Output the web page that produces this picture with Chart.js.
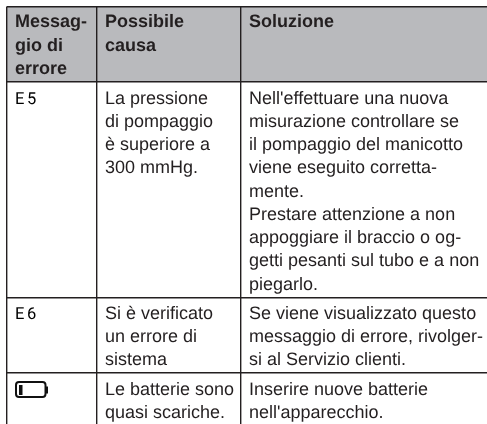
<!DOCTYPE html>
<html>
<head>
<meta charset="utf-8">
<style>html,body{margin:0;padding:0;background:#fff}canvas{display:block}</style>
<script src="https://cdn.jsdelivr.net/npm/chart.js@4"></script>
</head>
<body>
<canvas id="c" width="487" height="424"></canvas>
<script>
// Content
const headerMessage = ["Messag-", "gio di", "errore"];
const headerCause = ["Possibile", "causa"];
const headerSolution = ["Soluzione"];
const codes = ["E5", "E6"];
const causeE5 = ["La pressione", "di pompaggio", "è superiore a", "300 mmHg."];
const solutionE5 = ["Nell'effettuare una nuova", "misurazione controllare se", "il pompaggio del manicotto", "viene eseguito corretta-", "mente.", "Prestare attenzione a non", "appoggiare il braccio o og-", "getti pesanti sul tubo e a non", "piegarlo."];
const causeE6 = ["Si è verificato", "un errore di", "sistema"];
const solutionE6 = ["Se viene visualizzato questo", "messaggio di errore, rivolger-", "si al Servizio clienti."];
const causeBattery = ["Le batterie sono", "quasi scariche."];
const solutionBattery = ["Inserire nuove batterie", "nell'apparecchio."];

// Table layout (scale units equal page pixels)
const columnEdges = [6.5, 97, 241];
const rowEdges = [6.5, 81.5, 298, 373];
const textX = [15, 105, 249];
const headerBaselines = [27, 51, 74];
const e5Baselines = [104, 127, 150, 173, 197, 220, 243, 266, 290];
const e6Baselines = [319, 342, 365];
const batteryBaselines = [394.5, 417.5];

const INK = "#231f20";
const FONT = '18px "Liberation Sans", Arial, sans-serif';
const BOLD = 'bold 18px "Liberation Sans", Arial, sans-serif';

const tablePlugin = {
  id: "table",
  beforeDraw(chart) {
    const { ctx, scales: { x, y } } = chart;
    ctx.save();
    ctx.fillStyle = "#ffffff";
    ctx.fillRect(0, 0, chart.width, chart.height);
    ctx.fillStyle = "#b9babd";
    ctx.fillRect(x.getPixelForValue(columnEdges[0]), y.getPixelForValue(rowEdges[0]),
      x.getPixelForValue(487) - x.getPixelForValue(columnEdges[0]),
      y.getPixelForValue(rowEdges[1]) - y.getPixelForValue(rowEdges[0]));
    ctx.restore();
  },
  afterDraw(chart) {
    const { ctx, scales: { x, y } } = chart;
    const put = (lines, col, baselines, font) => {
      ctx.font = font;
      lines.forEach((t, i) => ctx.fillText(t, x.getPixelForValue(textX[col]), y.getPixelForValue(baselines[i])));
    };
    ctx.save();
    ctx.textRendering = "geometricPrecision";
    ctx.fillStyle = INK;
    ctx.textBaseline = "alphabetic";
    ctx.textAlign = "left";
    put(headerMessage, 0, headerBaselines, BOLD);
    put(headerCause, 1, headerBaselines, BOLD);
    put(headerSolution, 2, headerBaselines, BOLD);
    put(causeE5, 1, e5Baselines, FONT);
    put(solutionE5, 2, e5Baselines, FONT);
    put(causeE6, 1, e6Baselines, FONT);
    put(solutionE6, 2, e6Baselines, FONT);
    put(causeBattery, 1, batteryBaselines, FONT);
    put(solutionBattery, 2, batteryBaselines, FONT);

    // LCD style error codes
    ctx.letterSpacing = "2.5px";
    ctx.fillStyle = "#000";
    const lcd = '400 16.5px Roboto, sans-serif';
    put([codes[0]], 0, [104], lcd);
    put([codes[1]], 0, [319], lcd);
    ctx.letterSpacing = "0px";

    // Low battery symbol
    const bx = x.getPixelForValue(15), by = y.getPixelForValue(381);
    ctx.strokeStyle = "#111";
    ctx.lineWidth = 2;
    ctx.beginPath();
    ctx.roundRect(bx + 1, by + 1, 29.5, 15, 3);
    ctx.stroke();
    ctx.fillStyle = "#111";
    ctx.fillRect(bx + 4, by + 4, 3.5, 10);
    ctx.fillRect(bx + 31, by + 5.5, 2, 7);
    ctx.restore();
  }
};

new Chart(document.getElementById("c"), {
  type: "scatter",
  data: { datasets: [{ data: [], pointRadius: 0 }] },
  options: {
    responsive: false,
    animation: false,
    layout: { padding: { left: 6.5, top: 6.5, right: 0, bottom: 0 } },
    plugins: { legend: { display: false }, tooltip: { enabled: false }, title: { display: false } },
    scales: {
      x: {
        type: "linear", min: 6.5, max: 487,
        afterBuildTicks(s) { s.ticks = columnEdges.map(v => ({ value: v })); },
        ticks: { display: false },
        border: { display: false },
        grid: { color: "#231f20", lineWidth: 1.4, drawTicks: false }
      },
      y: {
        type: "linear", reverse: true, min: 6.5, max: 424,
        afterBuildTicks(s) { s.ticks = rowEdges.map(v => ({ value: v })); },
        ticks: { display: false },
        border: { display: false },
        grid: { color: "#231f20", lineWidth: 1.4, drawTicks: false }
      }
    }
  },
  plugins: [tablePlugin]
});
</script>
</body>
</html>
